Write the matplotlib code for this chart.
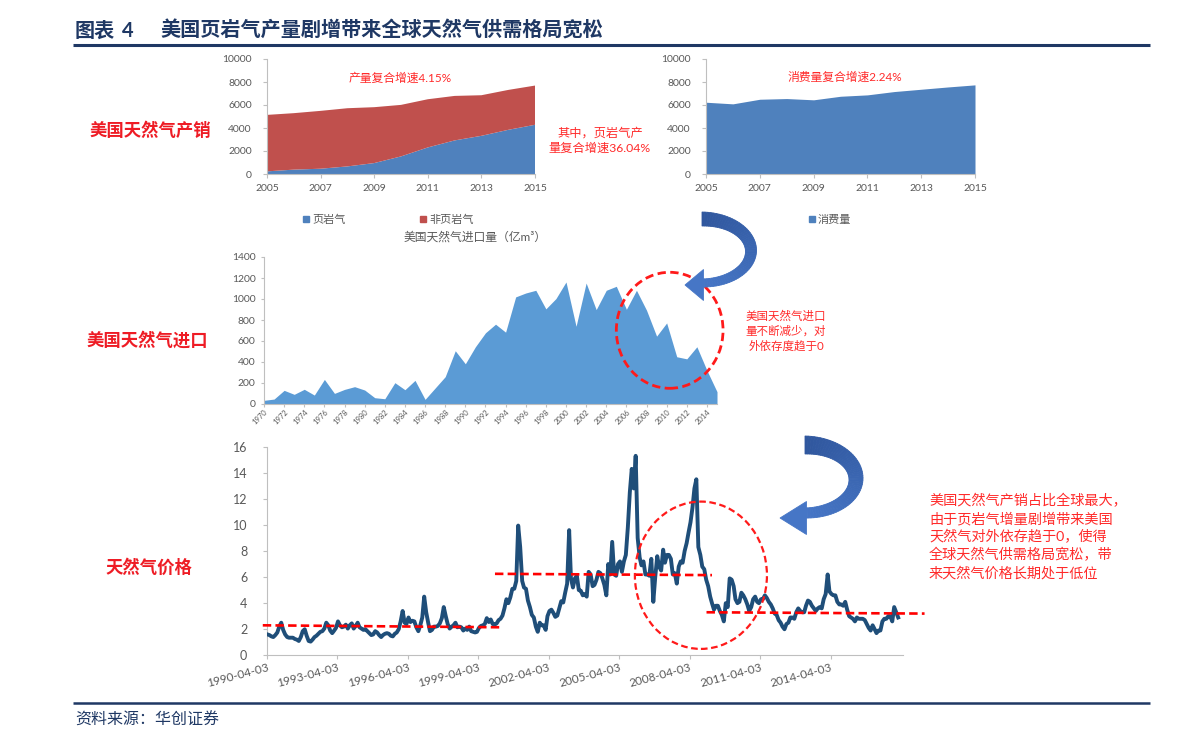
import numpy as np
import pandas as pd
import matplotlib
matplotlib.use("Agg")
import matplotlib.pyplot as plt
import matplotlib.dates as mdates
from matplotlib.patches import Ellipse, Polygon
from matplotlib.colors import to_rgb

plt.rcParams['font.family'] = ['Lato', 'Noto Sans CJK SC', 'DejaVu Sans']

# ---------------- data ----------------
prod_years = [2005, 2006, 2007, 2008, 2009, 2010, 2011, 2012, 2013, 2014, 2015]
shale_gas = [230, 380, 460, 660, 950, 1530, 2310, 2920, 3320, 3840, 4280]
non_shale_gas = [4910, 4910, 5030, 5060, 4860, 4480, 4190, 3870, 3530, 3470, 3410]
consumption = [6240, 6100, 6500, 6560, 6450, 6760, 6880, 7170, 7370, 7570, 7750]

import_years = list(range(1970, 2016))
imports = [35, 47, 130, 92, 140, 85, 234, 101, 139, 165,
           133, 60, 50, 203, 136, 225, 44, 152, 260, 507,
           383, 545, 678, 760, 684, 1020, 1057, 1083, 906, 1004,
           1162, 740, 1152, 899, 1083, 1121, 902, 1083, 893, 646,
           772, 450, 430, 545, 320, 117]

# monthly Henry Hub price, Apr 1990 - Dec 1999
price_1990s = [1.60, 1.55, 1.45, 1.40, 1.55, 1.75, 2.20, 2.50, 1.95,
               1.60, 1.40, 1.35, 1.35, 1.35, 1.25, 1.20, 1.10, 1.40, 1.85, 2.00, 1.50,
               1.10, 1.05, 1.20, 1.40, 1.50, 1.65, 1.80, 1.85, 2.05, 2.50, 2.30, 1.90,
               1.70, 1.90, 2.10, 2.60, 2.30, 2.15, 2.20, 2.35, 2.05, 2.30, 2.45, 2.05,
               2.25, 2.50, 2.15, 2.05, 1.95, 2.00, 1.85, 1.70, 1.55, 1.60, 1.85, 1.75,
               1.55, 1.40, 1.55, 1.65, 1.70, 1.65, 1.50, 1.45, 1.65, 1.75, 2.00, 2.60,
               3.40, 2.50, 2.40, 2.90, 2.55, 2.65, 2.60, 2.15, 1.85, 2.30, 2.90, 4.50,
               3.30, 2.50, 1.85, 1.95, 2.20, 2.20, 2.25, 2.45, 2.85, 3.70, 3.00, 2.40,
               2.05, 2.20, 2.30, 2.50, 2.15, 2.20, 2.15, 1.90, 2.05, 1.95, 2.20, 1.85,
               1.80, 1.75, 1.80, 2.10, 2.25, 2.30, 2.40, 2.85, 2.55, 2.75, 2.40, 2.35]
# Jan 2000 - Dec 2009
price_2000s = [2.45, 2.70, 2.80, 3.05, 3.60, 4.30, 4.00, 4.45, 5.10, 5.10, 5.70, 9.95,
               8.30, 5.70, 5.20, 5.10, 4.20, 3.70, 3.10, 2.90, 2.20, 1.80, 2.50, 2.30,
               2.30, 1.95, 3.00, 3.40, 3.50, 3.25, 2.95, 3.05, 3.60, 4.15, 4.05, 4.80,
               5.50, 9.60, 5.90, 5.20, 5.90, 6.10, 5.00, 4.95, 4.60, 4.70, 4.50, 6.40,
               6.20, 5.30, 5.40, 5.80, 6.40, 6.30, 5.90, 5.40, 4.60, 7.00, 6.20, 8.70,
               6.20, 6.10, 7.00, 7.20, 6.40, 7.20, 7.70, 9.80, 12.50, 14.30, 12.80, 15.30,
               9.00, 7.50, 6.90, 7.20, 6.20, 6.20, 6.10, 7.40, 4.10, 6.00, 7.60, 6.80,
               6.50, 8.10, 7.10, 7.70, 7.70, 7.40, 6.20, 6.30, 5.50, 6.80, 7.20, 7.10,
               8.00, 8.60, 9.40, 10.20, 11.30, 12.80, 13.50, 8.30, 7.70, 6.80, 6.60, 5.80,
               5.30, 4.50, 4.00, 3.50, 3.80, 3.80, 3.40, 3.10, 2.60, 4.00, 3.70, 5.90]
# Jan 2010 - Feb 2017
price_2010s = [5.80, 5.30, 4.30, 4.00, 4.10, 4.80, 4.60, 4.30, 3.90, 3.40, 3.70, 4.30,
               4.50, 4.10, 4.00, 4.30, 4.30, 4.60, 4.40, 4.10, 3.90, 3.60, 3.20, 3.10,
               2.70, 2.50, 2.20, 2.00, 2.40, 2.50, 2.90, 2.90, 2.80, 3.30, 3.60, 3.40,
               3.30, 3.30, 3.80, 4.20, 4.10, 3.80, 3.60, 3.40, 3.60, 3.70, 3.60, 4.30,
               4.70, 6.20, 4.90, 4.70, 4.60, 4.60, 4.10, 3.90, 3.90, 3.80, 4.10, 3.50,
               3.00, 2.90, 2.80, 2.60, 2.90, 2.80, 2.80, 2.80, 2.70, 2.40, 2.10, 1.90,
               2.30, 2.00, 1.70, 1.90, 1.90, 2.60, 2.80, 2.80, 3.00, 3.00, 2.60, 3.70,
               3.30, 2.90]
price_tick_labels = ['1990-04-03', '1993-04-03', '1996-04-03', '1999-04-03', '2002-04-03',
                     '2005-04-03', '2008-04-03', '2011-04-03', '2014-04-03']
# average price levels (red dashed guides): (start, end, level_start, level_end)
level_segments = [('1990-02-01', '2000-03-01', 2.30, 2.15),
                  ('1999-12-20', '2009-03-15', 6.25, 6.15),
                  ('2008-12-20', '2018-04-01', 3.30, 3.20)]

# ---------------- figure ----------------
W, H = 1191, 750
fig = plt.figure(figsize=(W / 100, H / 100), dpi=100)

def rect(l, t, r, b):
    return [l / W, 1 - b / H, (r - l) / W, (b - t) / H]

GRAY = '#595959'
AXC = '#bfbfbf'
RED = '#ee1c25'
NAVY = '#1f3864'

def style(ax, size=7.5, length=3, pad=4):
    for s in ['top', 'right']:
        ax.spines[s].set_visible(False)
    for s in ['left', 'bottom']:
        ax.spines[s].set_color(AXC)
        ax.spines[s].set_linewidth(0.8)
    ax.tick_params(colors=GRAY, labelsize=size, length=length, color=AXC, pad=pad)
    ax.set_facecolor('none')

# production
ax1 = fig.add_axes(rect(267, 59, 535, 174))
ax1.stackplot(prod_years, shale_gas, non_shale_gas, colors=['#4f81bd', '#c0504d'], linewidth=0)
ax1.set_xlim(2005, 2015)
ax1.set_ylim(0, 10000)
ax1.set_xticks(range(2005, 2016, 2))
ax1.set_yticks(range(0, 10001, 2000))
style(ax1)
ax1.tick_params(axis='y', pad=8)

# consumption
ax2 = fig.add_axes(rect(706, 59, 975, 174))
ax2.fill_between(prod_years, consumption, 0, color='#4f81bd', linewidth=0)
ax2.set_xlim(2005, 2015)
ax2.set_ylim(0, 10000)
ax2.set_xticks(range(2005, 2016, 2))
ax2.set_yticks(range(0, 10001, 2000))
style(ax2)
ax2.tick_params(axis='y', pad=8)

# imports
ax3 = fig.add_axes(rect(264, 257, 717, 404))
ax3.fill_between(import_years, imports, 0, color='#5b9bd5', linewidth=0)
ax3.set_xlim(1970, 2015)
ax3.set_ylim(0, 1400)
ax3.set_yticks(range(0, 1401, 200))
ax3.set_xticks(range(1970, 2015, 2))
style(ax3, size=7.5, length=2, pad=4)
ax3.tick_params(axis='x', labelsize=5.5, pad=1)
for lab in ax3.get_xticklabels():
    lab.set_rotation(45)
    lab.set_ha('right')
    lab.set_rotation_mode('anchor')
ax3.add_patch(Ellipse((2010.3, 702), 10.6, 1105, fill=False, ec='#ff1a1a',
                      ls=(0, (3, 1.6)), lw=2.0, clip_on=False, zorder=5))

# price
price_all = price_1990s + price_2000s + price_2010s
dates = pd.date_range('1990-04-01', periods=len(price_all), freq='MS') + pd.Timedelta(days=14)
ax4 = fig.add_axes(rect(266.7, 446.7, 903, 655.3))
ax4.plot(dates, price_all, color='#1f4e79', lw=2.8, solid_joinstyle='round', zorder=3)
ax4.set_xlim(pd.Timestamp('1990-04-03'), pd.Timestamp('2017-05-01'))
ax4.set_ylim(0, 16)
ax4.set_yticks(range(0, 17, 2))
ax4.set_xticks([pd.Timestamp(s) for s in price_tick_labels])
ax4.set_xticklabels(price_tick_labels)
style(ax4, size=9, length=3, pad=11)
ax4.tick_params(axis='x', labelsize=8.5, pad=2)
for lab in ax4.get_xticklabels():
    lab.set_rotation(15)
    lab.set_ha('right')
    lab.set_va('top')
    lab.set_rotation_mode('anchor')
for d0, d1, v0, v1 in level_segments:
    ax4.plot([pd.Timestamp(d0), pd.Timestamp(d1)], [v0, v1], color='#ff0000',
             ls=(0, (3.2, 1.6)), lw=1.9, clip_on=False, zorder=4)
ctr = mdates.date2num(pd.Timestamp('2008-09-24'))
ax4.add_patch(Ellipse((ctr, 6.14), 5.62 * 365.25, 11.3, fill=False, ec='#ff1a1a',
                      ls=(0, (3, 1.6)), lw=1.6, clip_on=False, zorder=5))

# ---------------- overlay (pixel coordinates) ----------------
ov = fig.add_axes([0, 0, 1, 1], zorder=10)
ov.set_xlim(0, W)
ov.set_ylim(H, 0)
ov.axis('off')
ov.patch.set_alpha(0)

# title + rules
ov.text(75, 31, '图表', fontsize=14.5, fontweight='bold', color=NAVY, va='center', ha='left')
ov.text(122, 31, '4', fontsize=14.5, fontweight='bold', color=NAVY, va='center', ha='left')
ov.text(160, 31, '美国页岩气产量剧增带来全球天然气供需格局宽松', fontsize=14.5,
        fontweight='bold', color=NAVY, va='center', ha='left')
ov.plot([73, 1150], [45, 45], color=NAVY, lw=2.2, solid_capstyle='butt')
ov.plot([73, 1150], [703, 703], color=NAVY, lw=1.8, solid_capstyle='butt')
ov.text(75, 720, '资料来源：华创证券', fontsize=11.5, color=NAVY, va='center', ha='left')

# section labels
for txt, x, y in [('美国天然气产销', 150, 130), ('美国天然气进口', 147, 340), ('天然气价格', 149, 567)]:
    ov.text(x, y, txt, fontsize=12.5, fontweight='bold', color=RED, ha='center', va='center')

# chart annotations
ov.text(400, 78, '产量复合增速4.15%', fontsize=8.5, color='#ff2a2a', ha='center', va='center')
ov.text(600, 133, '其中，页岩气产', fontsize=8.8, color='#ff2a2a', ha='center', va='center')
ov.text(600, 148, '量复合增速36.04%', fontsize=8.8, color='#ff2a2a', ha='center', va='center')
ov.text(845, 77, '消费量复合增速2.24%', fontsize=8.5, color='#ff2a2a', ha='center', va='center')

# legends
ov.plot([306], [219], marker='s', ms=5, color='#4f81bd', ls='none')
ov.text(312, 219, '页岩气', fontsize=8, color=GRAY, ha='left', va='center')
ov.plot([423], [219], marker='s', ms=5, color='#c0504d', ls='none')
ov.text(429, 219, '非页岩气', fontsize=8, color=GRAY, ha='left', va='center')
ov.plot([812], [219], marker='s', ms=5, color='#4f81bd', ls='none')
ov.text(818, 219, '消费量', fontsize=8, color=GRAY, ha='left', va='center')
ov.text(475, 237, '美国天然气进口量（亿m³）', fontsize=8.5, color=GRAY, ha='center', va='center')

for i, line in enumerate(['美国天然气进口', '量不断减少，对', '外依存度趋于0']):
    ov.text(786, 316 + 15 * i, line, fontsize=8.3, color='#ff2a2a', ha='center', va='center')

price_note = ['美国天然气产销占比全球最大，', '由于页岩气增量剧增带来美国',
              '天然气对外依存趋于0，使得', '全球天然气供需格局宽松，带',
              '来天然气价格长期处于低位']
for i, line in enumerate(price_note):
    ov.text(929, 500 + 18.2 * i, line, fontsize=10.2, color='#ff2a2a', ha='left', va='center')

# curved blue arrows
def curved_arrow(cx, cy, rx, ry, t0, t1, head_w, head_len, head_dy, c0, c1):
    n = 60
    th = np.linspace(np.pi / 2, -np.pi / 2, n)
    t = np.linspace(t0, t1, n)
    ox = cx + (rx + t / 2) * np.cos(th)
    oy = cy - (ry + t / 2) * np.sin(th)
    ix = cx + (rx - t / 2) * np.cos(th)
    iy = cy - (ry - t / 2) * np.sin(th)
    a, b = np.array(to_rgb(c0)), np.array(to_rgb(c1))
    for k in range(n - 1):
        f = k / (n - 2)
        col = a * (1 - f) + b * f
        quad = [(ox[k], oy[k]), (ox[k + 1], oy[k + 1]), (ix[k + 1], iy[k + 1]), (ix[k], iy[k])]
        ov.add_patch(Polygon(quad, closed=True, fc=col, ec=col, lw=0.6))
    by = cy + ry + head_dy
    head = [(cx + 1.5, by - head_w / 2), (cx + 1.5, by + head_w / 2), (cx - head_len, by)]
    ov.add_patch(Polygon(head, closed=True, fc=c1, ec=c1, lw=0.6))

curved_arrow(702, 251, 49, 32, 14, 8, 31, 17, 2, '#30579e', '#4676c6')
curved_arrow(805, 479, 51, 34, 18, 10, 33, 25, 5, '#30579e', '#4676c6')

fig.savefig('out.png', dpi=100)
